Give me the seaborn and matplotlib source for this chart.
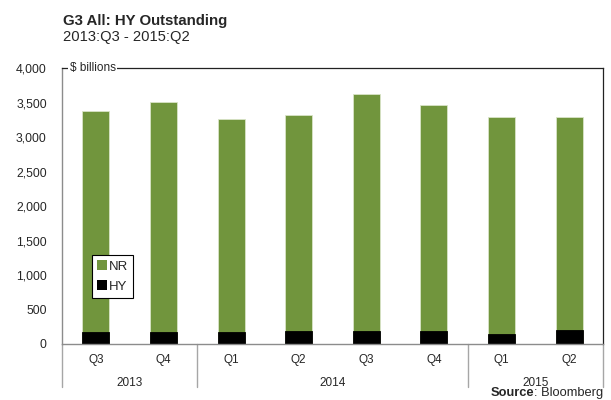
import matplotlib
matplotlib.use("Agg")
import matplotlib.pyplot as plt
import matplotlib.transforms as mtransforms
from matplotlib.patches import Patch
import seaborn as sns
import pandas as pd
import numpy as np

# data ($ billions)
years = ["2013", "2013", "2014", "2014", "2014", "2014", "2015", "2015"]
quarters = ["Q3", "Q4", "Q1", "Q2", "Q3", "Q4", "Q1", "Q2"]
hy = [180, 180, 180, 195, 195, 195, 150, 205]
nr = [3200, 3330, 3080, 3125, 3430, 3270, 3140, 3085]
year_groups = [("2013", 0, 1), ("2014", 2, 5), ("2015", 6, 7)]

GREEN = "#71953d"

df = pd.DataFrame({"period": [f"{y} {q}" for y, q in zip(years, quarters)],
                   "HY": hy, "NR": nr})
df["total"] = df["HY"] + df["NR"]

sns.set_style("white")
plt.rcParams["font.family"] = ["Liberation Sans", "DejaVu Sans"]

fig = plt.figure(figsize=(6.11, 4.0), dpi=100)
ax = fig.add_axes([62 / 611, 1 - 344 / 400, 541 / 611, 275.7 / 400])

# stacked bars: total in green, HY overlaid in black
sns.barplot(data=df, x="period", y="total", color=GREEN, width=0.4,
            edgecolor="#d9e4c8", linewidth=0.6, saturation=1, ax=ax)
sns.barplot(data=df, x="period", y="HY", color="black", width=0.4,
            edgecolor="black", linewidth=0.6, saturation=1, ax=ax)

ax.set_xlim(-0.5, len(df) - 0.5)
ax.set_ylim(0, 4000)
ax.set_yticks(np.arange(0, 4001, 500))
ax.set_yticklabels([f"{v:,}" for v in range(0, 4001, 500)], fontsize=8.8)
ax.tick_params(axis="y", length=0, pad=11)
ax.set_xticks([])
ax.set_xlabel("")
ax.set_ylabel("")

for side in ["left", "bottom"]:
    ax.spines[side].set_color("#8c8c8c")
    ax.spines[side].set_linewidth(1.0)
for side in ["top", "right"]:
    ax.spines[side].set_visible(True)
    ax.spines[side].set_color("#222222")
    ax.spines[side].set_linewidth(0.9)

ax.text(0.014, 1.0, "$ billions", transform=ax.transAxes, fontsize=8.5,
        va="center", ha="left",
        bbox=dict(facecolor="white", edgecolor="none", pad=1.2))

# two-level category axis
trans = mtransforms.blended_transform_factory(ax.transData, ax.transAxes)
for i, q in enumerate(quarters):
    ax.text(i, -0.058, q, transform=trans, ha="center", va="center", fontsize=8.5)
for name, a, b in year_groups:
    ax.text((a + b) / 2, -0.14, name, transform=trans, ha="center", va="center",
            fontsize=8.5)
for xs in [-0.5, 1.5, 5.5, 7.5]:
    ax.plot([xs, xs], [0, -0.155], transform=trans, color="#a6a6a6",
            linewidth=1.0, clip_on=False)

# legend
handles = [Patch(facecolor=GREEN, edgecolor="none", label="NR"),
           Patch(facecolor="black", edgecolor="none", label="HY")]
leg = fig.legend(handles=handles, loc="upper left",
                 bbox_to_anchor=(92 / 611, 1 - 255 / 400),
                 fontsize=9.5, frameon=True, fancybox=False, framealpha=1,
                 edgecolor="black", handlelength=0.7, handleheight=0.7,
                 handletextpad=0.15, borderpad=0.4, labelspacing=0.6,
                 borderaxespad=0)
leg.get_frame().set_linewidth(0.8)

# titles
fig.text(63 / 611, 1 - 25 / 400, "G3 All: HY Outstanding", fontsize=10.8,
         fontweight="bold", va="baseline", ha="left")
fig.text(63 / 611, 1 - 40.7 / 400, "2013:Q3 - 2015:Q2", fontsize=10.6,
         va="baseline", ha="left")

# source line: bold "Source" followed by regular text
src = fig.text(603 / 611, 1 - 396 / 400, ": Bloomberg", fontsize=9.3,
               ha="right", va="baseline")
fig.canvas.draw()
bb = src.get_window_extent(renderer=fig.canvas.get_renderer())
x_left = bb.x0 / fig.bbox.width
fig.text(x_left, 1 - 396 / 400, "Source", fontsize=9.3, fontweight="bold",
         ha="right", va="baseline")

fig.savefig("out.png", dpi=100)
